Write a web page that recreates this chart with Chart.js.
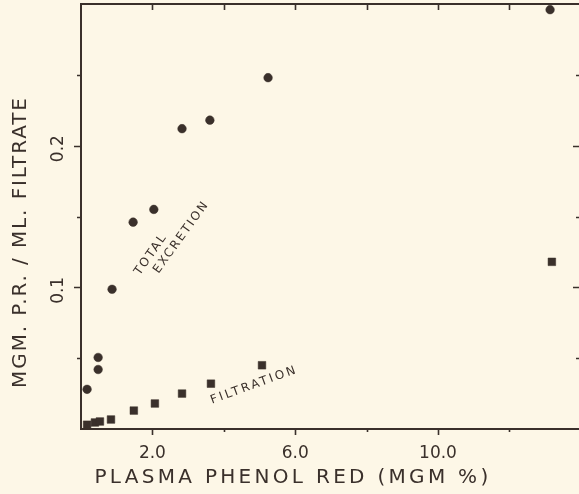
<!DOCTYPE html>
<html>
<head>
<meta charset="utf-8">
<script src="https://cdn.jsdelivr.net/npm/chart.js@4/dist/chart.umd.min.js"></script>
<style>
  html, body { margin: 0; padding: 0; background: #fdf7e7; }
  #wrap { width: 579px; height: 494px; }
</style>
</head>
<body>
<div id="wrap"><canvas id="phenolChart" width="579" height="494"></canvas></div>
<script>
// plasma phenol red (mgm %) vs mgm P.R. per ml filtrate
const plasmaTotal = [0.17, 0.48, 0.48, 0.87, 1.46, 2.04, 2.83, 3.61, 5.24, 13.14];
const totalExcretion = [0.028, 0.042, 0.0505, 0.0986, 0.146, 0.155, 0.212, 0.218, 0.248, 0.296];

const plasmaFiltration = [0.17, 0.39, 0.53, 0.84, 1.48, 2.07, 2.83, 3.64, 5.07, 13.19];
const filtration = [0.003, 0.0046, 0.0053, 0.0067, 0.013, 0.018, 0.025, 0.032, 0.045, 0.118];

const xTickValues = [2, 4, 6, 8, 10, 12];
const xTickLabels = { 2: '2.0', 6: '6.0', 10: '10.0' };
const yTickValues = [0.05, 0.1, 0.15, 0.2, 0.25];
const yTickLabels = { 0.1: '0.1', 0.2: '0.2' };

const xTitle = 'PLASMA PHENOL RED (MGM %)';
const yTitle = 'MGM. P.R. / ML. FILTRATE';

// curve labels, placed in data coordinates
const curveLabels = [
    { text: 'TOTAL', x: 1.96, y: 0.1233, angle: -55, spacing: 2 },
    { text: 'EXCRETION', x: 2.81, y: 0.1355, angle: -54, spacing: 2 },
    { text: 'FILTRATION', x: 4.85, y: 0.031, angle: -20, spacing: 2.5 }
];

const INK = '#3a302b';
const PAPER = '#fdf7e7';
const FONT = '"DejaVu Sans", sans-serif';

const toPoints = (xs, ys) => xs.map((x, i) => ({ x: x, y: ys[i] }));

// paper, frame, ticks and all the lettering
const paperPlugin = {
    id: 'paper',
    beforeDraw(chart) {
        const ctx = chart.ctx;
        ctx.save();
        ctx.fillStyle = PAPER;
        ctx.fillRect(0, 0, chart.width, chart.height);
        ctx.restore();
    },
    afterDraw(chart) {
        const ctx = chart.ctx;
        const area = chart.chartArea;
        const xs = chart.scales.x;
        const ys = chart.scales.y;
        ctx.save();
        ctx.strokeStyle = INK;
        ctx.fillStyle = INK;

        // top frame line
        ctx.lineWidth = 2;
        ctx.beginPath();
        ctx.moveTo(area.left - 1, area.top);
        ctx.lineTo(area.right, area.top);
        ctx.stroke();

        // x ticks: outward at bottom, inward at top
        ctx.lineWidth = 1.6;
        xTickValues.forEach(v => {
            const px = Math.round(xs.getPixelForValue(v)) + 0.5;
            const major = xTickLabels[v] !== undefined;
            ctx.beginPath();
            ctx.moveTo(px, area.bottom);
            ctx.lineTo(px, area.bottom + (major ? 6 : 3));
            ctx.moveTo(px, area.top);
            ctx.lineTo(px, area.top + 6);
            ctx.stroke();
        });

        // y ticks: outward on the left, inward on the right
        yTickValues.forEach(v => {
            const py = Math.round(ys.getPixelForValue(v)) + 0.5;
            const major = yTickLabels[v] !== undefined;
            ctx.beginPath();
            ctx.moveTo(area.left, py);
            ctx.lineTo(area.left - (major ? 7 : 4), py);
            ctx.moveTo(area.right, py);
            ctx.lineTo(area.right - (major ? 6 : 3), py);
            ctx.stroke();
        });

        // rotated y tick labels
        ctx.font = '17px ' + FONT;
        ctx.textAlign = 'center';
        ctx.textBaseline = 'middle';
        Object.keys(yTickLabels).forEach(k => {
            const py = ys.getPixelForValue(Number(k));
            ctx.save();
            ctx.translate(area.left - 22, py + 3);
            ctx.rotate(-Math.PI / 2);
            ctx.fillText(yTickLabels[k], 0, 0);
            ctx.restore();
        });

        // axis titles
        ctx.font = '20px ' + FONT;
        ctx.letterSpacing = '3.3px';
        ctx.fillText(xTitle, area.left + 212, area.bottom + 49);

        ctx.letterSpacing = '1.9px';
        ctx.save();
        ctx.translate(area.left - 60, area.top + 238);
        ctx.rotate(-Math.PI / 2);
        ctx.fillText(yTitle, 0, 0);
        ctx.restore();

        // curve labels
        ctx.font = '12px ' + FONT;
        curveLabels.forEach(lbl => {
            ctx.save();
            ctx.letterSpacing = lbl.spacing + 'px';
            ctx.translate(xs.getPixelForValue(lbl.x), ys.getPixelForValue(lbl.y));
            ctx.rotate(lbl.angle * Math.PI / 180);
            ctx.fillText(lbl.text, 0, 0);
            ctx.restore();
        });

        ctx.restore();
    }
};

document.addEventListener('DOMContentLoaded', function() {
    const canvas = document.getElementById('phenolChart');

    new Chart(canvas, {
        type: 'scatter',
        data: {
            datasets: [{
                label: 'Total excretion',
                data: toPoints(plasmaTotal, totalExcretion),
                pointStyle: 'circle',
                pointRadius: 4.3,
                borderWidth: 0.5,
                backgroundColor: INK,
                borderColor: INK
            }, {
                label: 'Filtration',
                data: toPoints(plasmaFiltration, filtration),
                pointStyle: 'rect',
                pointRadius: 5.4,
                borderWidth: 0.5,
                backgroundColor: INK,
                borderColor: INK
            }]
        },
        options: {
            responsive: false,
            animation: false,
            devicePixelRatio: 1,
            clip: false,
            layout: { autoPadding: false, padding: { top: 4, right: 0, left: 0, bottom: 0 } },
            plugins: {
                legend: { display: false },
                tooltip: { enabled: false }
            },
            scales: {
                x: {
                    type: 'linear',
                    position: 'bottom',
                    min: 0,
                    max: 13.95,
                    afterBuildTicks: scale => {
                        scale.ticks = Object.keys(xTickLabels).map(k => ({ value: Number(k) }));
                    },
                    afterFit: scale => { scale.height = 65; },
                    ticks: {
                        autoSkip: false,
                        maxRotation: 0,
                        padding: 14,
                        color: INK,
                        font: { family: FONT, size: 17 },
                        callback: value => xTickLabels[value] || ''
                    },
                    grid: { display: false, drawTicks: false },
                    border: { display: true, color: INK, width: 2 }
                },
                y: {
                    type: 'linear',
                    position: 'left',
                    min: 0,
                    max: 0.3,
                    afterFit: scale => { scale.width = 81; },
                    ticks: { display: false, stepSize: 0.05 },
                    grid: { display: false, drawTicks: false },
                    border: { display: true, color: INK, width: 2 }
                }
            }
        },
        plugins: [paperPlugin]
    });
});
</script>
</body>
</html>
